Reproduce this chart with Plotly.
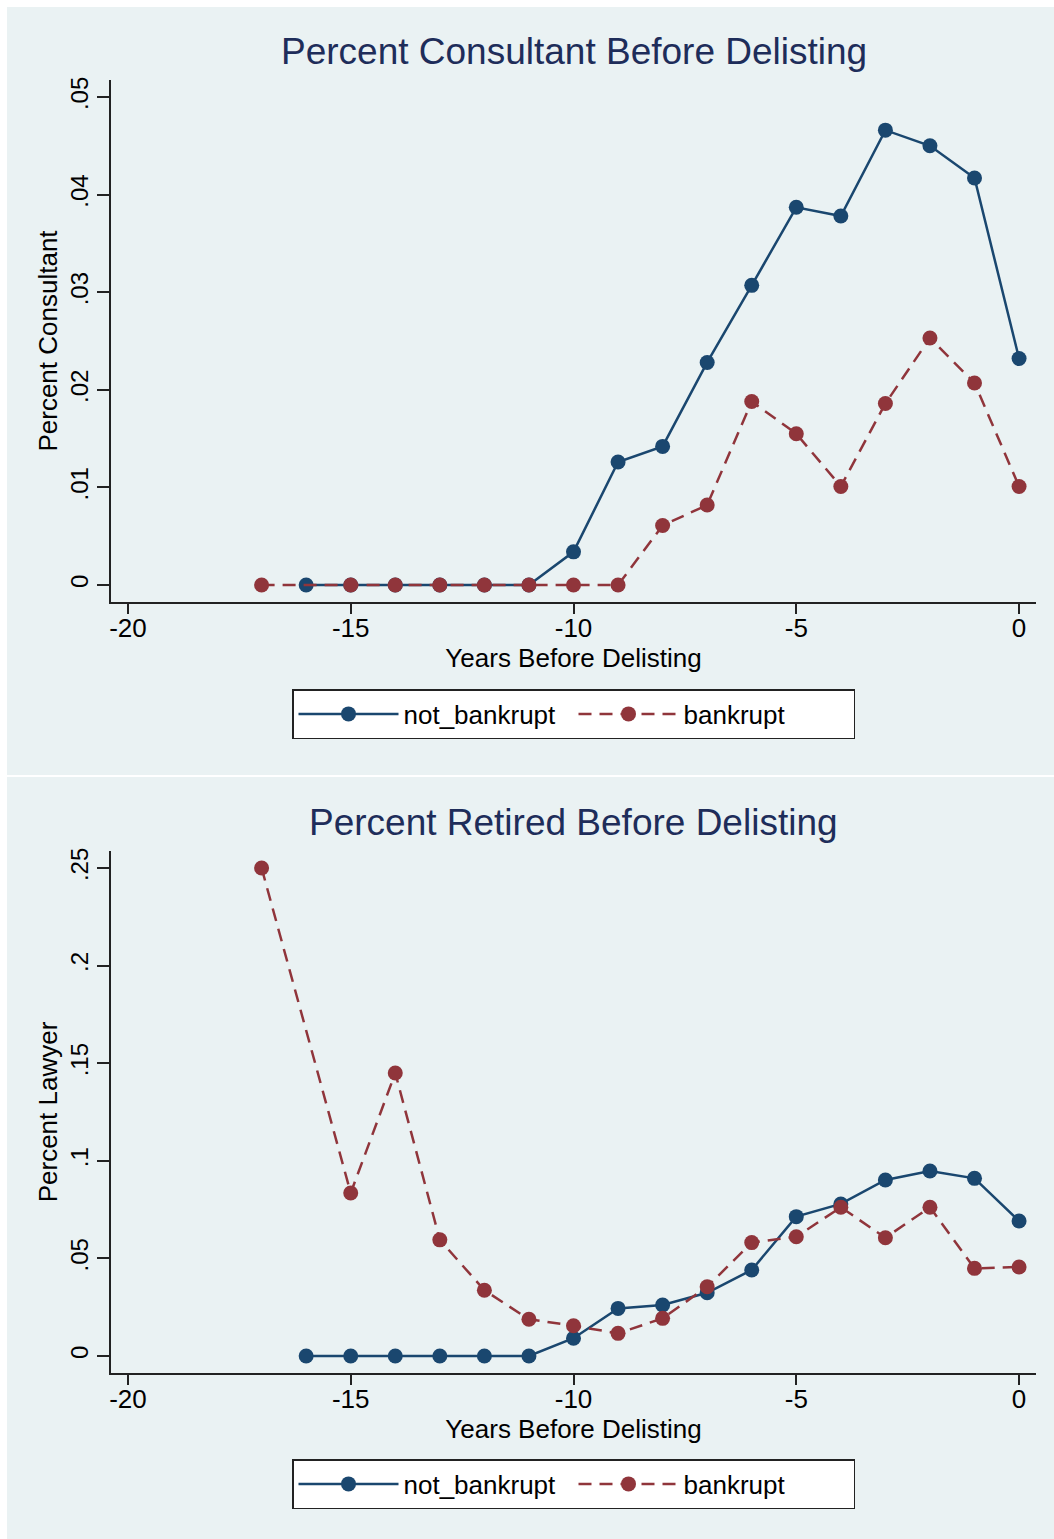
import plotly.graph_objects as go

# ---------------- data ----------------
years_nb = [-16, -15, -14, -13, -12, -11, -10, -9, -8, -7, -6, -5, -4, -3, -2, -1, 0]
years_b = [-17, -15, -14, -13, -12, -11, -10, -9, -8, -7, -6, -5, -4, -3, -2, -1, 0]

consult_not_bankrupt = [0, 0, 0, 0, 0, 0, 0.0034, 0.0126, 0.0142, 0.0228, 0.0307,
                        0.0387, 0.0378, 0.0466, 0.0450, 0.0417, 0.0232]
consult_bankrupt = [0, 0, 0, 0, 0, 0, 0, 0, 0.0061, 0.0082, 0.0188,
                    0.0155, 0.0101, 0.0186, 0.0253, 0.0207, 0.0101]

retired_not_bankrupt = [0, 0, 0, 0, 0, 0, 0.0091, 0.0244, 0.0261, 0.0324, 0.0441,
                        0.0714, 0.0779, 0.0902, 0.0948, 0.0910, 0.0692]
retired_bankrupt = [0.25, 0.0835, 0.145, 0.0595, 0.0337, 0.0188, 0.0155, 0.0116, 0.0193,
                    0.0355, 0.0581, 0.0611, 0.0762, 0.0606, 0.0762, 0.0449, 0.0456]

x_ticks = [-20, -15, -10, -5, 0]
x_ticktext = ["-20", "-15", "-10", "-5", "0"]
y1_ticks = [0, 0.01, 0.02, 0.03, 0.04, 0.05]
y1_ticktext = ["0", ".01", ".02", ".03", ".04", ".05"]
y2_ticks = [0, 0.05, 0.1, 0.15, 0.2, 0.25]
y2_ticktext = ["0", ".05", ".1", ".15", ".2", ".25"]

# ---------------- style ----------------
W, H = 1054, 1539
BG = "#EAF2F3"
NAVY = "#1A476F"
MAROON = "#90353B"
TITLE_C = "#1E2D5A"
FONT = "Liberation Sans, Arial, sans-serif"


def px_x(p):
    return p / W


def px_y(p):
    return 1 - p / H


fig = go.Figure()

def add_pair(xa, ya, y_nb, y_b, legend):
    fig.add_trace(go.Scatter(
        x=years_nb, y=y_nb, name="not_bankrupt", mode="lines+markers",
        line=dict(color=NAVY, width=2.5),
        marker=dict(color=NAVY, size=15),
        xaxis=xa, yaxis=ya, legend=legend))
    fig.add_trace(go.Scatter(
        x=years_b, y=y_b, name="bankrupt", mode="lines+markers",
        line=dict(color=MAROON, width=2.5, dash="13px,8px"),
        marker=dict(color=MAROON, size=15),
        xaxis=xa, yaxis=ya, legend=legend))

add_pair("x", "y", consult_not_bankrupt, consult_bankrupt, "legend")
add_pair("x2", "y2", retired_not_bankrupt, retired_bankrupt, "legend2")

xdom = [px_x(111), px_x(1036)]

axis_common = dict(
    showline=True, linecolor="#222222", linewidth=1.5,
    ticks="outside", tickcolor="#222222", tickwidth=1.5,
    tickfont=dict(family=FONT, size=26, color="black"),
    zeroline=False, automargin=False,
)

xcommon = dict(axis_common, range=[-20.38, 0.38], tickvals=x_ticks, ticktext=x_ticktext,
               ticklen=10, showgrid=False, ticklabelstandoff=-8,
               title=dict(text="Years Before Delisting", font=dict(family=FONT, size=26, color="black"),
                          standoff=4))

legend_common = dict(orientation="h", x=px_x(573.5), xanchor="center", yanchor="middle",
                     bgcolor="white", bordercolor="#222222", borderwidth=1.5,
                     font=dict(family=FONT, size=26, color="black"), itemwidth=100,
                     entrywidth=165, entrywidthmode="pixels")

fig.update_layout(
    width=W, height=H,
    margin=dict(l=0, r=0, t=0, b=0),
    paper_bgcolor="white",
    plot_bgcolor="white",
    showlegend=True,
    xaxis=dict(xcommon, domain=xdom, anchor="y"),
    yaxis=dict(axis_common, domain=[px_y(602), px_y(80)], anchor="x",
               range=[-0.00174, 0.05174], tickvals=y1_ticks, ticktext=y1_ticktext,
               tickangle=-90, ticklen=12, tickfont=dict(family=FONT, size=24, color="black"),
               showgrid=True, gridcolor=BG, gridwidth=1.5,
               title=dict(text="Percent Consultant", font=dict(family=FONT, size=26, color="black"),
                          standoff=1)),
    xaxis2=dict(xcommon, domain=xdom, anchor="y2"),
    yaxis2=dict(axis_common, domain=[px_y(1373), px_y(851)], anchor="x2",
                range=[-0.0087, 0.2587], tickvals=y2_ticks, ticktext=y2_ticktext,
                tickangle=-90, ticklen=12, tickfont=dict(family=FONT, size=24, color="black"),
                showgrid=True, gridcolor=BG, gridwidth=1.5,
                title=dict(text="Percent Lawyer", font=dict(family=FONT, size=26, color="black"),
                           standoff=1)),
    legend=dict(legend_common, y=px_y(714)),
    legend2=dict(legend_common, y=px_y(1484)),
    shapes=[
        dict(type="rect", xref="paper", yref="paper", x0=px_x(7), x1=1, y0=px_y(775), y1=px_y(7),
             fillcolor=BG, line=dict(width=0), layer="below"),
        dict(type="rect", xref="paper", yref="paper", x0=px_x(7), x1=1, y0=0, y1=px_y(777),
             fillcolor=BG, line=dict(width=0), layer="below"),
    ],
    annotations=[
        dict(text="Percent Consultant Before Delisting", x=px_x(573.5), y=px_y(51), xref="paper",
             yref="paper", xanchor="center", yanchor="middle", showarrow=False,
             font=dict(family=FONT, size=37, color=TITLE_C)),
        dict(text="Percent Retired Before Delisting", x=px_x(573.5), y=px_y(822), xref="paper",
             yref="paper", xanchor="center", yanchor="middle", showarrow=False,
             font=dict(family=FONT, size=37, color=TITLE_C)),
    ],
)

fig.write_html("out.html")
